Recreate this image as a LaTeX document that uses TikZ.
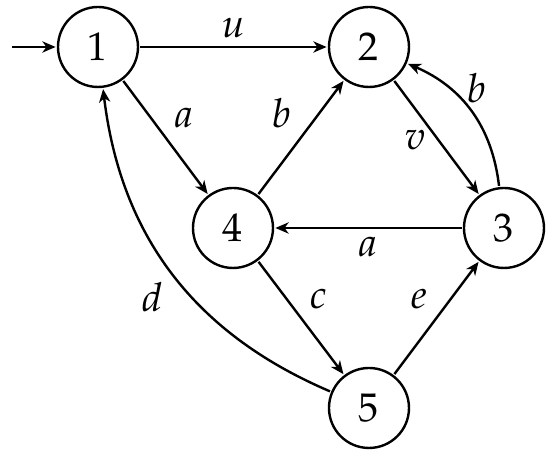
\documentclass[tikz,border=0pt]{standalone}
\usepackage[T1]{fontenc}
\usepackage{mathpazo}
\usetikzlibrary{arrows.meta}

\begin{document}
\begin{tikzpicture}[line width=0.6pt, >={Stealth[length=3.3pt,width=2.8pt,inset=1pt]},
		state/.style={draw, circle, minimum size=20pt, inner sep=0pt, outer sep=0.6pt},
		lbl/.style={auto, inner sep=2pt}]
			\def \hor{ 0.25pt };
			\def \ver{ 0.25pt };
			\useasboundingbox (0,0) rectangle (550*\hor,-457*\ver);
			\node[state] (1) at (98*\hor,-47*\ver) {1};
			\node[state] (2) at (369*\hor,-47*\ver) {2};
			\node[state] (3) at (504*\hor,-228*\ver) {3};
			\node[state] (4) at (233*\hor,-228*\ver) {4};
			\node[state] (5) at (369*\hor,-408*\ver) {5};
			\coordinate (start) at (12*\hor,-47*\ver);
			\draw[->] (start) -- (1);
			\draw[->] (1) -- node[lbl] {$u$} (2);
			\draw[->] (1) -- node[lbl] {$a$} (4);
			\draw[->] (4) -- node[lbl] {$b$} (2);
			\draw[->] (2) -- node[lbl, swap, pos=0.41, inner sep=0.5pt] {$v$} (3);
			\draw[->] (3) to[bend right=30] node[lbl, swap, pos=0.56, inner sep=0pt] {$b$} (2);
			\draw[->] (3) -- node[lbl] {$a$} (4);
			\draw[->] (4) -- node[lbl] {$c$} (5);
			\draw[->] (5) -- node[lbl] {$e$} (3);
			\draw[->] (5) to[bend left=30] node[lbl] {$d$} (1);
		\end{tikzpicture}
\end{document}
